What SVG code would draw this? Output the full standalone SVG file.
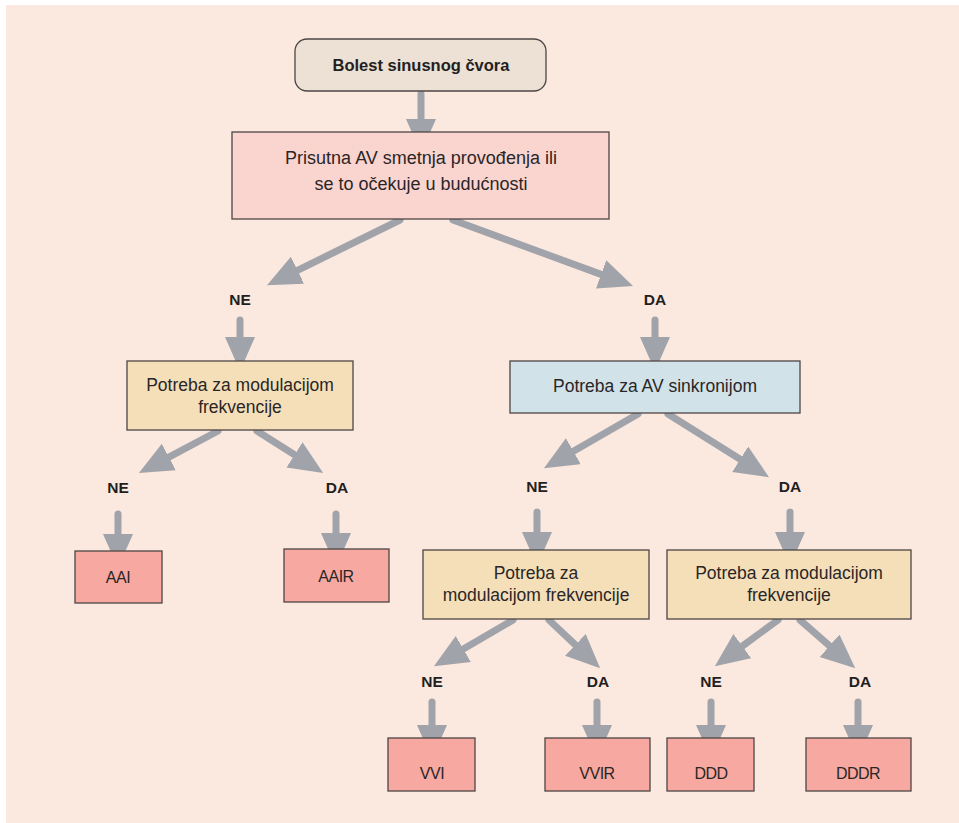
<svg xmlns="http://www.w3.org/2000/svg" width="959" height="823" viewBox="0 0 959 823">
<style>
.box{stroke:#4d4646;stroke-width:1.3}
.q{fill:#f4dfb9}
.leaf{fill:#f7a8a0}
.t{font-family:"Liberation Sans",Arial,sans-serif;font-size:17.5px;fill:#2a2626;text-anchor:middle}
.lt{font-family:"Liberation Sans",Arial,sans-serif;font-size:16px;fill:#2a2626;text-anchor:middle;letter-spacing:-0.5px}
.lb{font-family:"Liberation Sans",Arial,sans-serif;font-size:15.5px;font-weight:bold;fill:#231f20;text-anchor:middle}
.ar{stroke:#a0a4aa;stroke-width:7;stroke-linecap:round;fill:none}
</style>
<defs>
<marker id="ah" markerUnits="userSpaceOnUse" markerWidth="40" markerHeight="34" refX="0" refY="15" orient="auto" viewBox="0 0 40 34">
<path d="M0,0 L34,15 L0,30 z" fill="#a0a4aa"/>
</marker>
</defs>
<rect x="6" y="5" width="953" height="818" fill="#fbe8df"/>

<g id="connectors">
<line class="ar" marker-end="url(#ah)" x1="421" y1="94" x2="421" y2="119"/>
<line class="ar" marker-end="url(#ah)" x1="400" y1="220" x2="297.5" y2="270.3"/>
<line class="ar" marker-end="url(#ah)" x1="453" y1="220" x2="601.1" y2="274.4"/>
<line class="ar" marker-end="url(#ah)" x1="240" y1="320" x2="240" y2="337"/>
<line class="ar" marker-end="url(#ah)" x1="655" y1="320" x2="655" y2="337"/>
<line class="ar" marker-end="url(#ah)" x1="218" y1="431" x2="168.9" y2="457.1"/>
<line class="ar" marker-end="url(#ah)" x1="257" y1="431" x2="294.5" y2="454.8"/>
<line class="ar" marker-end="url(#ah)" x1="118" y1="514" x2="118" y2="534"/>
<line class="ar" marker-end="url(#ah)" x1="336" y1="514" x2="336" y2="533"/>
<line class="ar" marker-end="url(#ah)" x1="638" y1="414" x2="573.4" y2="451.2"/>
<line class="ar" marker-end="url(#ah)" x1="668" y1="414" x2="740.2" y2="459.2"/>
<line class="ar" marker-end="url(#ah)" x1="537" y1="512" x2="537" y2="532"/>
<line class="ar" marker-end="url(#ah)" x1="790" y1="512" x2="790" y2="532"/>
<line class="ar" marker-end="url(#ah)" x1="513" y1="620" x2="463.3" y2="649"/>
<line class="ar" marker-end="url(#ah)" x1="549" y1="620" x2="575.4" y2="644.9"/>
<line class="ar" marker-end="url(#ah)" x1="778" y1="620" x2="742.3" y2="646.1"/>
<line class="ar" marker-end="url(#ah)" x1="800" y1="620" x2="829.6" y2="645.8"/>
<line class="ar" marker-end="url(#ah)" x1="432" y1="702" x2="432" y2="725"/>
<line class="ar" marker-end="url(#ah)" x1="597" y1="702" x2="597" y2="725"/>
<line class="ar" marker-end="url(#ah)" x1="711" y1="702" x2="711" y2="725"/>
<line class="ar" marker-end="url(#ah)" x1="858" y1="702" x2="858" y2="725"/>
</g>

<g id="labels">
<text class="lb" x="240" y="305">NE</text>
<text class="lb" x="655" y="305">DA</text>
<text class="lb" x="118" y="493">NE</text>
<text class="lb" x="337" y="493">DA</text>
<text class="lb" x="537" y="492">NE</text>
<text class="lb" x="790" y="492">DA</text>
<text class="lb" x="432" y="687">NE</text>
<text class="lb" x="598" y="687">DA</text>
<text class="lb" x="711" y="687">NE</text>
<text class="lb" x="860" y="687">DA</text>
</g>

<g id="n-start">
<rect class="box" x="295" y="39" width="251" height="52" rx="12" fill="#ede0d5"/>
<text class="lb" x="421" y="71" style="font-size:16.5px">Bolest sinusnog čvora</text>
</g>

<g id="n-av-smetnja">
<rect class="box" x="232" y="132" width="377" height="87" fill="#fad4cf"/>
<text class="t" x="421" y="164" style="font-size:18px">Prisutna AV smetnja provođenja ili</text>
<text class="t" x="421" y="190" style="font-size:18px">se to očekuje u budućnosti</text>
</g>

<g id="n-mod-left">
<rect class="box q" x="127" y="361" width="226" height="69"/>
<text class="t" x="240" y="391">Potreba za modulacijom</text>
<text class="t" x="240" y="413">frekvencije</text>
</g>

<g id="n-sync">
<rect class="box" x="510" y="361" width="290" height="52" fill="#d1e2e9"/>
<text class="t" x="655" y="392">Potreba za AV sinkronijom</text>
</g>

<g id="n-aai">
<rect class="box leaf" x="75" y="551" width="87" height="52"/>
<text class="lt" x="118" y="583">AAI</text>
</g>
<g id="n-aair">
<rect class="box leaf" x="284" y="549" width="105" height="53"/>
<text class="lt" x="336" y="582">AAIR</text>
</g>

<g id="n-mod-mid">
<rect class="box q" x="423" y="550" width="226" height="69"/>
<text class="t" x="536" y="579">Potreba za</text>
<text class="t" x="536" y="601">modulacijom frekvencije</text>
</g>

<g id="n-mod-right">
<rect class="box q" x="667" y="550" width="244" height="69"/>
<text class="t" x="789" y="579">Potreba za modulacijom</text>
<text class="t" x="789" y="601">frekvencije</text>
</g>

<g id="n-vvi">
<rect class="box leaf" x="388" y="738" width="87" height="53"/>
<text class="lt" x="432" y="779">VVI</text>
</g>
<g id="n-vvir">
<rect class="box leaf" x="545" y="738" width="105" height="53"/>
<text class="lt" x="597" y="779">VVIR</text>
</g>
<g id="n-ddd">
<rect class="box leaf" x="667" y="738" width="87" height="53"/>
<text class="lt" x="711" y="779">DDD</text>
</g>
<g id="n-dddr">
<rect class="box leaf" x="806" y="738" width="105" height="53"/>
<text class="lt" x="858" y="779">DDDR</text>
</g>
</svg>
